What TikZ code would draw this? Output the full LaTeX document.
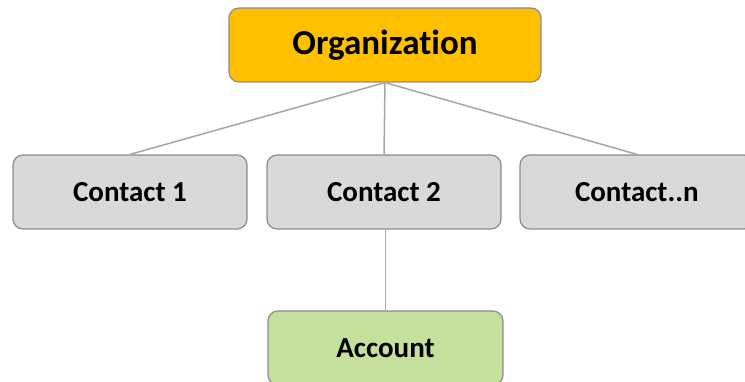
\documentclass[tikz,border=0pt]{standalone}
\usepackage{fontspec}
\setmainfont[Ligatures=NoCommon]{Carlito}
\definecolor{orgfill}{HTML}{FFC000}
\definecolor{grayfill}{HTML}{D9D9D9}
\definecolor{greenfill}{HTML}{C4E09C}
\definecolor{boxline}{HTML}{8C8C8C}
\definecolor{conline}{HTML}{A6A6A6}
\begin{document}
\begin{tikzpicture}[x=1pt,y=1pt,
  box/.style={draw=boxline, line width=1.2pt, rounded corners=10pt, font=\bfseries, inner sep=0pt},
  subfont/.style={font=\bfseries\fontsize{29}{34}\selectfont},
  conn/.style={draw=conline, line width=1.5pt}]
\path[use as bounding box] (0,0) rectangle (745,382);
\begin{scope}
\clip (0,0) rectangle (745,382);
\node[box, fill=orgfill, minimum width=312pt, minimum height=74pt, font=\bfseries\fontsize{35}{40}\selectfont] (org) at (385,337) {\raisebox{-3pt}{Organization}};
\node[box, fill=grayfill, minimum width=234pt, minimum height=74pt, subfont] (c1) at (130,190) {Contact 1};
\node[box, fill=grayfill, minimum width=234pt, minimum height=74pt, subfont] (c2) at (384,190) {Contact 2};
\node[box, fill=grayfill, minimum width=234pt, minimum height=74pt, subfont, text width=234pt, align=left] (cn) at (637,190) {\hspace{55pt}Contact..n};
\node[box, fill=greenfill, minimum width=235pt, minimum height=74pt, subfont] (acc) at (385.5,34) {Account};
\end{scope}
\draw[conn] (org.south) -- (c1.north);
\draw[conn] (org.south) -- (c2.north);
\draw[conn] (org.south) -- (cn.north);
\draw[conn] (acc.north |- c2.south) -- (acc.north);
\end{tikzpicture}
\end{document}
